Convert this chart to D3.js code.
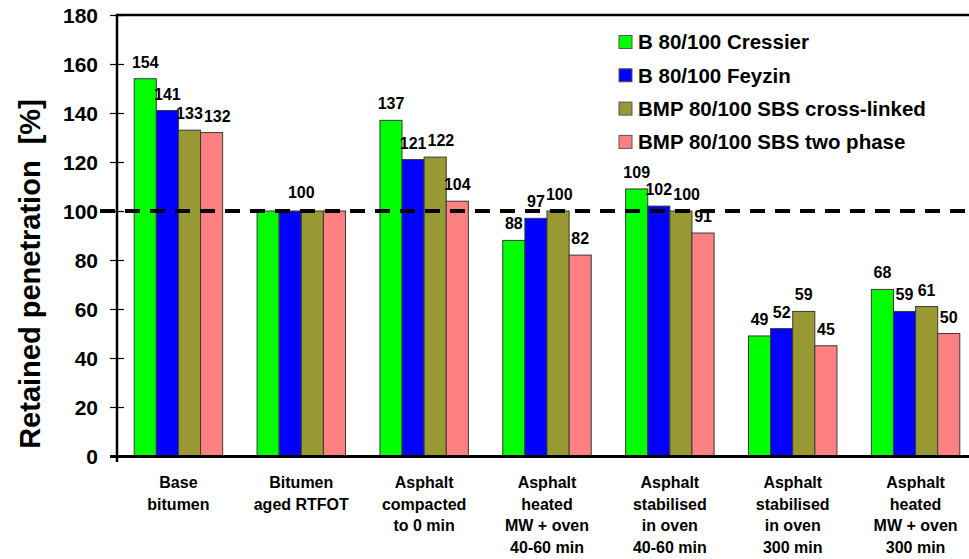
<!DOCTYPE html>
<html>
<head>
<meta charset="utf-8">
<script src="https://cdn.jsdelivr.net/npm/d3@7/dist/d3.min.js"></script>
<style>
  html, body { margin: 0; padding: 0; background: #fff; }
  svg { display: block; font-family: "Liberation Sans", Arial, sans-serif; font-weight: bold; }
</style>
</head>
<body>
<svg id="chart" width="969" height="559"></svg>
<script>
// ---- data ----
const categories = [
  ["Base", "bitumen"],
  ["Bitumen", "aged RTFOT"],
  ["Asphalt", "compacted", "to 0 min"],
  ["Asphalt", "heated", "MW + oven", "40-60 min"],
  ["Asphalt", "stabilised", "in oven", "40-60 min"],
  ["Asphalt", "stabilised", "in oven", "300 min"],
  ["Asphalt", "heated", "MW + oven", "300 min"]
];
const seriesNames = [
  "B 80/100 Cressier",
  "B 80/100 Feyzin",
  "BMP 80/100 SBS cross-linked",
  "BMP 80/100 SBS two phase"
];
const cressier   = [154, 100, 137, 88, 109, 49, 68];
const feyzin     = [141, 100, 121, 97, 102, 52, 59];
const crossLinked= [133, 100, 122, 100, 100, 59, 61];
const twoPhase   = [132, 100, 104, 82, 91, 45, 50];
// labels shown per category (group 2 shows a single centred "100")
const showLabels = [
  [true, true, true, true],
  [false, false, false, false],
  [true, true, true, true],
  [true, true, true, true],
  [true, true, true, true],
  [true, true, true, true],
  [true, true, true, true]
];
const yTicks = [0, 20, 40, 60, 80, 100, 120, 140, 160, 180];
const referenceValue = 100;
const yTitle = "Retained penetration  [%]";
const colors = ["#00ff00", "#0000ff", "#999933", "#ff8080"];

const seriesValues = [cressier, feyzin, crossLinked, twoPhase];

// ---- layout ----
const svg = d3.select("#chart");
const pLeft = 117, pRight = 977, pTop = 15, pBottom = 456;

const y = d3.scaleLinear().domain([0, 180]).range([pBottom, pTop]);
const catIdx = categories.map((d, i) => i);
const x0 = d3.scaleBand().domain(catIdx).range([pLeft, pRight]).paddingInner(0.28).paddingOuter(0.14);
const x1 = d3.scaleBand().domain(d3.range(seriesNames.length)).range([0, x0.bandwidth()]);

// bars
const groups = svg.append("g").selectAll("g").data(catIdx).join("g")
  .attr("transform", i => `translate(${x0(i)},0)`);

groups.selectAll("rect").data(i => seriesValues.map((s, k) => ({k, v: s[i]}))).join("rect")
  .attr("x", d => x1(d.k))
  .attr("y", d => y(d.v))
  .attr("width", x1.bandwidth())
  .attr("height", d => y(0) - y(d.v))
  .attr("fill", d => colors[d.k])
  .attr("stroke", "#3a3a3a")
  .attr("stroke-width", 1);

// y axis
const yAxis = d3.axisLeft(y).tickValues(yTicks).tickSize(7).tickPadding(12);
const gy = svg.append("g").attr("transform", `translate(${pLeft},0)`).call(yAxis);
gy.select(".domain").remove();
gy.selectAll(".tick line").attr("x1", 7).attr("stroke", "#000").attr("stroke-width", 1.2);
gy.selectAll(".tick text")
  .attr("font-size", 21).attr("font-weight", "bold")
  .attr("font-family", "Liberation Sans, Arial, sans-serif").attr("fill", "#000").attr("dy", "0.36em");

// frame lines
svg.append("line").attr("x1", pLeft).attr("x2", pLeft).attr("y1", pTop - 1).attr("y2", pBottom + 6)
  .attr("stroke", "#000").attr("stroke-width", 2.5);
svg.append("line").attr("x1", pLeft - 1).attr("x2", 969).attr("y1", pTop).attr("y2", pTop)
  .attr("stroke", "#000").attr("stroke-width", 2.5);
svg.append("line").attr("x1", pLeft - 7).attr("x2", 969).attr("y1", pBottom + 0.5).attr("y2", pBottom + 0.5)
  .attr("stroke", "#000").attr("stroke-width", 3);

// reference dashed line
svg.append("line").attr("x1", 100).attr("x2", 969).attr("y1", y(referenceValue)).attr("y2", y(referenceValue))
  .attr("stroke", "#000").attr("stroke-width", 4).attr("stroke-dasharray", "15,10");

// value labels (drawn after the dashed line)
const labelLayer = svg.append("g").selectAll("g").data(catIdx).join("g")
  .attr("transform", i => `translate(${x0(i)},0)`);
labelLayer.each(function(i) {
  const g = d3.select(this);
  const items = seriesValues.map((s, k) => ({k, v: s[i]})).filter(d => showLabels[i][d.k]);
  let prev = null;
  items.forEach(d => {
    const t = g.append("text")
      .attr("x", x1(d.k) + x1.bandwidth() / 2)
      .attr("y", y(d.v) - 11)
      .attr("text-anchor", "middle")
      .attr("font-size", 16)
      .text(d.v);
    // nudge right if it collides with the previous label
    const b = t.node().getBBox();
    if (prev && b.x < prev.x + prev.width + 1 && b.y < prev.y + prev.height - 4 && b.y + b.height - 4 > prev.y) {
      const dx = prev.x + prev.width + 1 - b.x;
      t.attr("x", +t.attr("x") + dx);
      b.x += dx;
    }
    prev = b;
  });
  if (items.length === 0) {
    g.append("text")
      .attr("x", x0.bandwidth() / 2)
      .attr("y", y(d3.max(seriesValues, s => s[i])) - 13)
      .attr("text-anchor", "middle")
      .attr("font-size", 16)
      .text(cressier[i]);
  }
});

// x category labels
const xl = svg.append("g").selectAll("text").data(catIdx).join("text")
  .attr("x", i => x0(i) + x0.bandwidth() / 2)
  .attr("y", 488)
  .attr("text-anchor", "middle")
  .attr("font-size", 16);
xl.selectAll("tspan").data(i => categories[i]).join("tspan")
  .attr("x", function() { return d3.select(this.parentNode).attr("x"); })
  .attr("dy", (d, j) => j === 0 ? 0 : 21.7)
  .text(d => d);

// y title
svg.append("text")
  .attr("transform", "translate(40,274) rotate(-90)")
  .attr("text-anchor", "middle")
  .attr("font-size", 29)
  .style("white-space", "pre")
  .text(yTitle);

// legend
const lg = svg.append("g").selectAll("g").data(seriesNames).join("g")
  .attr("transform", (d, k) => `translate(619,${42 + k * 33.3})`);
lg.append("rect").attr("x", 0).attr("y", -6.5).attr("width", 13).attr("height", 13)
  .attr("fill", (d, k) => colors[k]).attr("stroke", "#555").attr("stroke-width", 1);
lg.append("text").attr("x", 19).attr("y", 0).attr("dy", "0.36em")
  .attr("font-size", 20.5).text(d => d);
</script>
</body>
</html>
